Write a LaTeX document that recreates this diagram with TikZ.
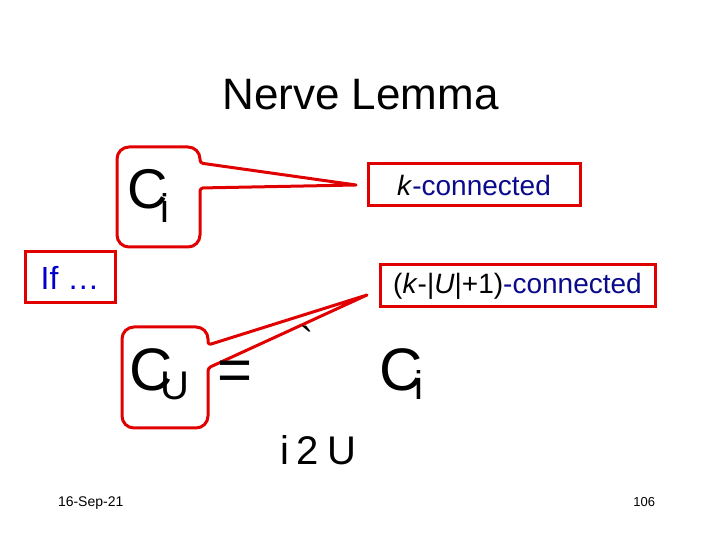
\documentclass[tikz,border=0pt]{standalone}
\usepackage{fontspec}
\setmainfont{Liberation Sans}
\usepackage{tikz}
\usetikzlibrary{positioning}
\definecolor{slidered}{RGB}{225,0,0}
\definecolor{textnavy}{RGB}{10,10,140}
\definecolor{textblue}{RGB}{0,0,204}
\newcommand{\slidesize}[1]{\fontsize{#1}{#1}\selectfont}
\tikzset{redbox/.style={draw=slidered,line width=3pt,fill=white}}

\begin{document}
\begin{tikzpicture}[x=1pt,y=1pt,
    every node/.style={inner sep=0pt,outer sep=0pt},
    callout/.style={draw=slidered,line width=3pt,fill=white,line join=round},
    frame/.style={minimum width=#1,rectangle}]

  \fill[white] (0,0) rectangle (720,540);
  \useasboundingbox (0,0) rectangle (720,540);

  \node[anchor=base] (Title) at (360.5,430) {\slidesize{44}Nerve Lemma};

  % boxed labels
  \node[redbox,minimum width=212pt,minimum height=42pt]
    (KConn) at (474,355) {\slidesize{28}\textit{k}\textcolor{textnavy}{-connected}};
  \node[redbox,minimum width=275pt,minimum height=42pt]
    (KUConn) at (517.5,254) {\slidesize{28}(\textit{k}-|\textit{U}|+1)\textcolor{textnavy}{-connected}};
  \node[redbox,minimum width=90pt,minimum height=51pt]
    (IfBox) at (70,262.5) {\slidesize{32}\textcolor{textblue}{If \ldots}};

  \coordinate[left=12pt of KConn.west] (TopTip);
  \coordinate[below left=9pt and 13pt of KUConn.west] (BottomTip);

  % callouts
  \node[frame=83pt,minimum height=100pt] (TopCallout) at (158.5,343) {};
  \node[frame=86pt,minimum height=101pt] (BottomCallout) at (165,162.5) {};

  \draw[callout] (TopCallout.north) [rounded corners=12pt]
    -- (TopCallout.north east) [rounded corners=3pt]
    -- ([yshift=-16pt]TopCallout.north east) [sharp corners]
    -- (TopTip) [rounded corners=3pt]
    -- ([yshift=-41pt]TopCallout.north east) [rounded corners=12pt]
    -- (TopCallout.south east) -- (TopCallout.south west)
    -- (TopCallout.north west) -- cycle;
  \draw[callout] (BottomCallout.north) [rounded corners=12pt]
    -- (BottomCallout.north east) [rounded corners=3pt]
    -- ([yshift=-18pt]BottomCallout.north east) [sharp corners]
    -- (BottomTip) [rounded corners=3pt]
    -- ([yshift=-41pt]BottomCallout.north east) [rounded corners=12pt]
    -- (BottomCallout.south east) -- (BottomCallout.south west)
    -- (BottomCallout.north west) -- cycle;

  % formula
  \node[anchor=base west] (CiTop) at (127,331)
    {\slidesize{56}C\kern-6.5pt\raisebox{-14pt}{\slidesize{40}i}};
  \node[anchor=base west] (CU) at (129,149)
    {\slidesize{60}C\kern-12pt\raisebox{-9pt}{\slidesize{40}U}};
  \node[anchor=base west] (Equals) at (217,149) {\slidesize{60}=};
  \node[anchor=base west] (Union) at (300,184) {\slidesize{40}\textasciigrave};
  \node[anchor=base west] (CiRight) at (379,149)
    {\slidesize{60}C\kern-8pt\raisebox{-9pt}{\slidesize{40}i}};
  \node[anchor=base west] (Index) at (280,75)
    {\slidesize{40}i\kern8pt2\kern8pt U};

  % footer
  \node[anchor=base west] (Date) at (58,33) {\slidesize{14}16-Sep-21};
  \node[anchor=base east] (Page) at (655,33) {\slidesize{13}106};

\end{tikzpicture}
\end{document}
